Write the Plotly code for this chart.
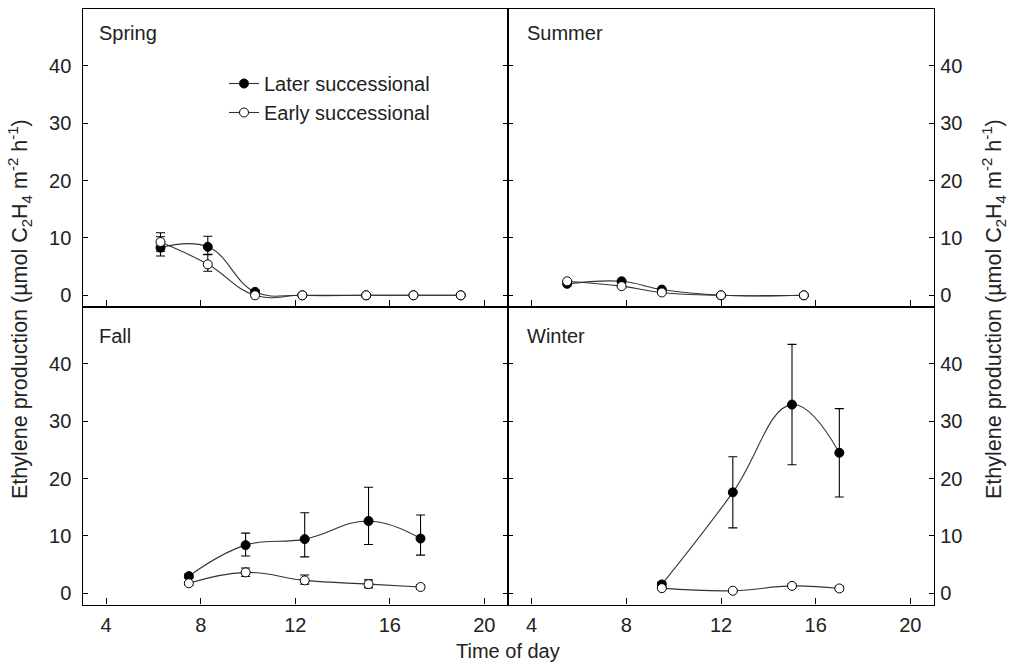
import plotly.graph_objects as go

# ---------------- data ----------------
spring_x = [6.3, 8.3, 10.3, 12.3, 15.0, 17.0, 19.0]
spring_later = [8.3, 8.45, 0.6, 0, 0, 0, 0]
spring_later_up = [1.9, 1.85, 0.3, 0, 0, 0, 0]
spring_later_dn = [1.45, 1.3, 0.3, 0, 0, 0, 0]
spring_early = [9.3, 5.4, 0, 0, 0, 0, 0]
spring_early_up = [1.6, 1.7, 0, 0, 0, 0, 0]
spring_early_dn = [1.6, 1.2, 0, 0, 0, 0, 0]

summer_x = [5.5, 7.8, 9.5, 12.0, 15.5]
summer_later = [2.0, 2.45, 1.0, 0, 0]
summer_early = [2.45, 1.6, 0.5, 0, 0]

fall_x = [7.5, 9.9, 12.4, 15.1, 17.3]
fall_later = [3.0, 8.4, 9.45, 12.6, 9.55]
fall_later_up = [0.4, 2.1, 4.6, 5.9, 4.1]
fall_later_dn = [0.4, 1.9, 3.1, 4.1, 2.9]
fall_early = [1.75, 3.65, 2.25, 1.6, 1.1]
fall_early_up = [0.3, 0.75, 0.95, 0.75, 0.4]
fall_early_dn = [0.3, 0.7, 0.65, 0.65, 0.4]

winter_x = [9.5, 12.5, 15.0, 17.0]
winter_later = [1.55, 17.6, 32.9, 24.5]
winter_later_err = [0.4, 6.2, 10.5, 7.7]
winter_early = [0.9, 0.45, 1.3, 0.85]
winter_early_err = [0.2, 0.2, 0.3, 0.4]

x_ticks = [4, 8, 12, 16, 20]
y_ticks = [0, 10, 20, 30, 40]
panel_names = ["Spring", "Summer", "Fall", "Winter"]
series_names = ["Later successional", "Early successional"]

FONT = "Liberation Sans, Arial, Helvetica, sans-serif"
TXT_C = "#222222"
LINE_C = "#333333"

fig = go.Figure()

def add_pair(xs, later, l_up, l_dn, early, e_up, e_dn, xa, ya, show):
    fig.add_trace(go.Scatter(
        x=xs, y=later, mode="lines+markers", name=series_names[0],
        line=dict(color=LINE_C, width=1.1, shape="spline", smoothing=1.2),
        marker=dict(symbol="circle", size=9, color="black", line=dict(color="black", width=1)),
        error_y=dict(type="data", array=l_up, arrayminus=l_dn, symmetric=False,
                     color="black", thickness=1.1, width=4.5, visible=True),
        xaxis=xa, yaxis=ya, showlegend=show, legendrank=1))
    fig.add_trace(go.Scatter(
        x=xs, y=early, mode="lines+markers", name=series_names[1],
        line=dict(color=LINE_C, width=1.1, shape="spline", smoothing=1.2),
        marker=dict(symbol="circle", size=9, color="white", line=dict(color="black", width=1)),
        error_y=dict(type="data", array=e_up, arrayminus=e_dn, symmetric=False,
                     color="black", thickness=1.1, width=4.5, visible=True),
        xaxis=xa, yaxis=ya, showlegend=show, legendrank=2))

zeros5 = [0] * len(summer_x)
add_pair(spring_x, spring_later, spring_later_up, spring_later_dn,
         spring_early, spring_early_up, spring_early_dn, "x", "y", True)
add_pair(summer_x, summer_later, zeros5, zeros5,
         summer_early, zeros5, zeros5, "x2", "y2", False)
add_pair(fall_x, fall_later, fall_later_up, fall_later_dn,
         fall_early, fall_early_up, fall_early_dn, "x3", "y3", False)
add_pair(winter_x, winter_later, winter_later_err, winter_later_err,
         winter_early, winter_early_err, winter_early_err, "x4", "y4", False)

W, H = 1010, 664
xl = [82.5 / W, 508 / W]
xr = [508 / W, 934 / W]
yt = [(H - 306.5) / H, (H - 8.5) / H]
yb = [(H - 604.5) / H, (H - 306.5) / H]

tickfont = dict(family=FONT, size=20, color=TXT_C)

def xax(domain, anchor, labels):
    return dict(domain=domain, anchor=anchor, range=[3, 21], tickvals=x_ticks,
                ticks="inside", ticklen=6, tickwidth=1.1, tickcolor="black",
                showline=True, linecolor="black", linewidth=1.4, mirror=True,
                showgrid=False, zeroline=False, showticklabels=labels,
                tickfont=tickfont, ticklabelstandoff=2)

def yax(domain, anchor, side):
    return dict(domain=domain, anchor=anchor, range=[-1.95, 50], tickvals=y_ticks,
                ticks="inside", ticklen=5, tickwidth=1.1, tickcolor="black",
                showline=True, linecolor="black", linewidth=1.4, mirror="ticks",
                showgrid=False, zeroline=False, side=side,
                tickfont=tickfont, ticklabelstandoff=6 if side == "left" else 1)

fig.update_layout(
    width=W, height=H,
    margin=dict(l=0, r=0, t=0, b=0),
    paper_bgcolor="white", plot_bgcolor="white",
    font=dict(family=FONT, size=20, color=TXT_C),
    xaxis=xax(xl, "y", False), yaxis=yax(yt, "x", "left"),
    xaxis2=xax(xr, "y2", False), yaxis2=yax(yt, "x2", "right"),
    xaxis3=xax(xl, "y3", True), yaxis3=yax(yb, "x3", "left"),
    xaxis4=xax(xr, "y4", True), yaxis4=yax(yb, "x4", "right"),
    legend=dict(x=224 / W, y=(H - 64) / H, xanchor="left", yanchor="top",
                bgcolor="rgba(0,0,0,0)", font=dict(family=FONT, size=20, color=TXT_C),
                tracegroupgap=0, itemclick=False),
    showlegend=True,
)

label_pos = [(97, 33), (525, 33), (97, 336), (525, 336)]
for name, (px, py) in zip(panel_names, label_pos):
    fig.add_annotation(x=px / W, y=(H - py) / H, xref="paper", yref="paper",
                       text=name, showarrow=False, xanchor="left", yanchor="middle",
                       font=dict(family=FONT, size=20, color=TXT_C))

ytitle = "Ethylene production (µmol C<sub>2</sub>H<sub>4</sub> m<sup>-2</sup> h<sup>-1</sup>)"
for xp in (19, 993):
    fig.add_annotation(x=xp / W, y=(H - 309) / H, xref="paper", yref="paper",
                       text=ytitle, textangle=-90, showarrow=False,
                       xanchor="center", yanchor="middle",
                       font=dict(family=FONT, size=21.5, color=TXT_C))
fig.add_annotation(x=508 / W, y=(H - 651) / H, xref="paper", yref="paper",
                   text="Time of day", showarrow=False,
                   xanchor="center", yanchor="middle",
                   font=dict(family=FONT, size=20, color=TXT_C))

fig.write_html("out.html")
